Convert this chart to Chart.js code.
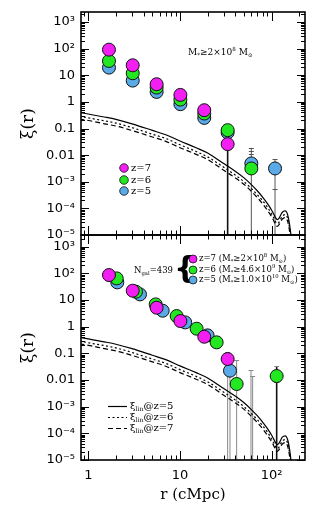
<!DOCTYPE html>
<html><head><meta charset="utf-8">
<script src="https://cdn.jsdelivr.net/npm/chart.js@4.4.1/dist/chart.umd.min.js"></script>
<style>
html,body{margin:0;padding:0;background:#fff;width:316px;height:517px;overflow:hidden}
canvas{position:absolute;left:0}
#c1{top:0}
#c2{top:225px}
</style></head><body>
<canvas id="c1" width="316" height="245"></canvas>
<canvas id="c2" width="316" height="292"></canvas>
<script>
// ---------- tick labels ----------
const yTickValues = [1e-5, 1e-4, 1e-3, 0.01, 0.1, 1, 10, 100, 1000];
const yTickLabels = ['10⁻⁵', '10⁻⁴', '10⁻³', '0.01', '0.1', '1', '10', '10²', '10³'];
const xTickValues = [1, 10, 100];
const xTickLabels = ['1', '10', '10²'];

// ---------- top panel (M* >= 2e8) ----------
const topR = [1.68, 3.05, 5.56, 10.1, 18.4, 33.1, 60, 108.8];
const topZ7 = [91.7, 23.7, 4.6, 1.83, 0.487, 0.0259, null, null];
const topZ6 = [34.5, 11.9, 3.45, 1.22, 0.365, 0.0866, 0.00316, null];
const topZ5 = [19.4, 6.3, 2.37, 0.82, 0.25, 0.0708, 0.00487, 0.00316];
const topErrR = [33.1, 60, 108.8];
const topErrHi = [0.0259, 0.0188, 0.0069];
const topErrLo = [1e-7, 1e-7, 1e-7];
const topCapR = [60, 60, 60, 108.8, 108.8, 108.8];
const topCapV = [0.0188, 0.0145, 0.0112, 0.0069, 0.0056, 0.00053];

// ---------- bottom panel (N_gal = 439) ----------
const botZ7R = [1.68, 3.05, 5.56, 10.1, 18.4, 33.1];
const botZ7 = [86.6, 22.4, 5.16, 1.63, 0.42, 0.0613];
const botZ6R = [2.04, 3.31, 5.43, 9.2, 15.2, 25.1, 41.5, 113.4];
const botZ6 = [64.9, 20.5, 6.88, 2.51, 0.84, 0.259, 0.00708, 0.0141];
const botZ5R = [2.07, 3.66, 6.47, 11.4, 20.0, 35.1];
const botZ5 = [46, 16.3, 3.98, 1.45, 0.473, 0.0224];
const botErrR = [33.1, 35.1, 41.5, 59.5, 62, 113.4];
const botErrHi = [0.115, 0.0224, 0.056, 0.0237, 0.0141, 0.0335];
const botErrLo = [1e-7, 1e-7, 1e-7, 1e-7, 1e-7, 1e-7];
const botErrDark = [false, false, false, false, false, true];
const botCapR = [33.1, 41.5, 59.5, 62, 113.4, 113.4];
const botCapV = [0.115, 0.056, 0.0237, 0.0141, 0.0335, 0.0087];

// ---------- linear correlation function curves ----------
const linR  = [0.8, 1, 1.5, 2, 3, 5, 7, 10, 15, 20, 30, 40, 50, 60, 70, 80, 90, 100, 105, 110, 115, 120, 130, 140, 150, 160, 170];
const linZ5 = [0.40, 0.35, 0.27, 0.22, 0.15, 0.085, 0.058, 0.034, 0.019, 0.012, 0.0048, 0.0025, 0.0014, 0.00078, 0.00045, 0.00026, 0.00015, 8.5e-5, 6.2e-5, 4.5e-5, 3.8e-5, 4.2e-5, 7.0e-5, 8.0e-5, 5.5e-5, 1.5e-5, 2e-6];
const linZ6 = [0.29, 0.25, 0.195, 0.16, 0.108, 0.061, 0.042, 0.0245, 0.0137, 0.0086, 0.0035, 0.0018, 0.001, 0.00056, 0.00032, 0.00019, 0.00011, 6.1e-5, 4.5e-5, 3.2e-5, 2.7e-5, 3.0e-5, 5.0e-5, 5.8e-5, 4.0e-5, 1.1e-5, 1.5e-6];
const linZ7 = [0.225, 0.2, 0.15, 0.124, 0.084, 0.048, 0.033, 0.019, 0.0107, 0.0068, 0.0027, 0.0014, 0.00079, 0.00044, 0.00025, 0.000146, 8.4e-5, 4.8e-5, 3.5e-5, 2.5e-5, 2.1e-5, 2.4e-5, 3.9e-5, 4.5e-5, 3.1e-5, 8.5e-6, 1.1e-6];

const MAGENTA = '#f21ef2', GREEN = '#22e822', BLUE = '#5aaae8';
const SERIF = '"DejaVu Serif", "Liberation Serif", serif';
const SANS = '"DejaVu Sans", "Liberation Sans", sans-serif';

const pts = (xs, ys) => xs.map((x, i) => ({x, y: ys[i]})).filter(p => p.y !== null);

function pointSet(label, xs, ys, color, order) {
  return {label, data: pts(xs, ys), showLine: false, pointRadius: 6.5, pointHoverRadius: 6.5,
    pointBackgroundColor: color, pointBorderColor: '#111', pointBorderWidth: 1, order};
}
function lineSets() {
  return [
    {label: 'z5', data: pts(linR, linZ5), borderColor: '#000', borderWidth: 1.2, pointRadius: 0, cubicInterpolationMode: 'monotone', order: 10},
    {label: 'z6', data: pts(linR, linZ6), borderColor: '#000', borderWidth: 1.2, borderDash: [2, 2.5], pointRadius: 0, cubicInterpolationMode: 'monotone', order: 11},
    {label: 'z7', data: pts(linR, linZ7), borderColor: '#000', borderWidth: 1.2, borderDash: [5, 3], pointRadius: 0, cubicInterpolationMode: 'monotone', order: 12}
  ];
}

function zeroPad(s) { s.paddingTop = 0; s.paddingBottom = 0; s.paddingLeft = 0; s.paddingRight = 0; }

function makeScales(yMax, showX) {
  return {
    x: {
      type: 'logarithmic', min: 0.832, max: 231, display: showX,
      grid: {display: false, drawTicks: false}, border: {display: false},
      afterBuildTicks: s => { s.ticks = xTickValues.map(v => ({value: v})); },
      ticks: {autoSkip: false, maxRotation: 0, padding: 8, color: '#000', font: {family: SANS, size: 13},
        callback: (v, i) => xTickLabels[i]},
      title: {display: showX, text: 'r (cMpc)', color: '#000', font: {family: SERIF, size: 15}, padding: {top: 0, bottom: 13}},
      afterFit: s => { s.height = showX ? 57 : 0; zeroPad(s); }
    },
    y: {
      type: 'logarithmic', min: 1e-5, max: yMax,
      grid: {display: false, drawTicks: false}, border: {display: false},
      afterBuildTicks: s => { s.ticks = yTickValues.map(v => ({value: v})); },
      ticks: {autoSkip: false, padding: 6, color: '#000', font: {family: SANS, size: 13},
        callback: (v, i) => yTickLabels[i]},
      title: {display: true, text: 'ξ(r)', color: '#000', font: {family: SERIF, size: 17}, padding: {top: 18, bottom: 0}},
      afterFit: s => { s.width = 81; zeroPad(s); }
    }
  };
}

function tickList(min, max) {
  const out = [];
  for (let e = -6; e <= 4; e++) for (let k = 1; k <= 9; k++) {
    const v = k * Math.pow(10, e);
    if (v >= min * 0.9999 && v <= max * 1.0001) out.push({v, major: k === 1});
  }
  return out;
}

const framePlugin = {
  id: 'frame',
  afterDatasetsDraw(chart) {
    const {ctx, chartArea: a, scales: {x, y}} = chart;
    ctx.save();
    ctx.strokeStyle = '#000';
    ctx.lineWidth = 1;
    ctx.beginPath();
    for (const t of tickList(y.min, y.max)) {
      const py = Math.round(y.getPixelForValue(t.v)) + 0.5, L = t.major ? 8 : 4;
      ctx.moveTo(a.left, py); ctx.lineTo(a.left + L, py);
      ctx.moveTo(a.right, py); ctx.lineTo(a.right - L, py);
    }
    for (const t of tickList(x.min, x.max)) {
      const px = Math.round(x.getPixelForValue(t.v)) + 0.5, L = t.major ? 9 : 4.5;
      ctx.moveTo(px, a.bottom); ctx.lineTo(px, a.bottom - L);
      ctx.moveTo(px, a.top); ctx.lineTo(px, a.top + L);
    }
    ctx.stroke();
    ctx.lineWidth = 1.6;
    ctx.strokeRect(a.left, a.top, a.width, a.height);
    ctx.restore();
  }
};

const errPlugin = {
  id: 'errbars',
  beforeDatasetsDraw(chart, args, o) {
    const {ctx, chartArea: a, scales: {x, y}} = chart;
    ctx.save();
    ctx.beginPath(); ctx.rect(a.left, a.top, a.width, a.height); ctx.clip();
    o.r.forEach((r, i) => {
      const px = x.getPixelForValue(r);
      ctx.strokeStyle = o.dark[i] ? '#111' : o.color;
      ctx.lineWidth = o.dark[i] ? 1.6 : 1;
      ctx.beginPath();
      ctx.moveTo(px, y.getPixelForValue(o.hi[i]));
      ctx.lineTo(px, Math.min(y.getPixelForValue(o.lo[i]), a.bottom + 2));
      ctx.stroke();
    });
    ctx.lineWidth = 1;
    ctx.beginPath();
    o.capR.forEach((r, i) => {
      const px = x.getPixelForValue(r), py = Math.round(y.getPixelForValue(o.capV[i])) + 0.5;
      ctx.moveTo(px - 2.5, py); ctx.lineTo(px + 2.5, py);
    });
    ctx.strokeStyle = o.color;
    ctx.stroke();
    ctx.restore();
  }
};

function rich(ctx, x, y, segs, size, family) {
  let cx = x;
  ctx.textBaseline = 'middle';
  ctx.textAlign = 'left';
  for (const [t, m] of segs) {
    const s = m ? size * 0.62 : size;
    ctx.font = s + 'px ' + family;
    const dy = m === 1 ? size * 0.32 : (m === 2 ? -size * 0.38 : 0);
    ctx.fillText(t, cx, y + dy);
    cx += ctx.measureText(t).width;
  }
  return cx;
}
function dot(ctx, x, y, r, c) {
  ctx.beginPath(); ctx.arc(x, y, r, 0, Math.PI * 2);
  ctx.fillStyle = c; ctx.fill();
  ctx.lineWidth = 0.8; ctx.strokeStyle = '#111'; ctx.stroke();
}

const topNotes = {
  id: 'topNotes',
  afterDraw(chart) {
    const ctx = chart.ctx;
    ctx.save();
    ctx.fillStyle = '#000';
    rich(ctx, 188, 53, [['M', 0], ['*', 1], ['≥2×10', 0], ['8', 2], [' M', 0], ['⊙', 1]], 9, SERIF);
    const L = [['z=7', MAGENTA, 168], ['z=6', GREEN, 180], ['z=5', BLUE, 191]];
    for (const [t, c, yy] of L) {
      dot(ctx, 124, yy, 4.3, c);
      ctx.fillStyle = '#000';
      rich(ctx, 131, yy, [[t, 0]], 10, SERIF);
    }
    ctx.restore();
  }
};

const botNotes = {
  id: 'botNotes',
  afterDraw(chart) {
    const ctx = chart.ctx;
    const off = 225;
    ctx.save();
    ctx.fillStyle = '#000';
    rich(ctx, 134, 271 - off, [['N', 0], ['gal', 1], ['=439', 0]], 8.5, SERIF);
    ctx.font = 'bold 31px ' + SANS;
    ctx.textBaseline = 'middle';
    ctx.textAlign = 'center';
    ctx.fillText('{', 185, 270 - off);
    const L = [
      [MAGENTA, 259, [['z=7 (M', 0], ['*', 1], ['≥2×10', 0], ['8', 2], [' M', 0], ['⊙', 1], [')', 0]]],
      [GREEN, 270, [['z=6 (M', 0], ['*', 1], ['≥4.6×10', 0], ['9', 2], [' M', 0], ['⊙', 1], [')', 0]]],
      [BLUE, 280, [['z=5 (M', 0], ['*', 1], ['≥1.0×10', 0], ['10', 2], [' M', 0], ['⊙', 1], [')', 0]]]
    ];
    for (const [c, yy, segs] of L) {
      dot(ctx, 193, yy - off, 4, c);
      ctx.fillStyle = '#000';
      rich(ctx, 199, yy - off, segs, 8.5, SERIF);
    }
    const LL = [[[], 406, '5'], [[2, 2.5], 417, '6'], [[5, 3], 428, '7']];
    for (const [dash, yy, z] of LL) {
      ctx.strokeStyle = '#000'; ctx.lineWidth = 1.2; ctx.setLineDash(dash);
      ctx.beginPath(); ctx.moveTo(108, yy - off + 0.5); ctx.lineTo(127, yy - off + 0.5); ctx.stroke();
      ctx.setLineDash([]);
      rich(ctx, 130, yy - off, [['ξ', 0], ['lin', 1], ['@z=' + z, 0]], 10, SERIF);
    }
    ctx.restore();
  }
};

const common = {responsive: false, animation: false, devicePixelRatio: 1,
  plugins: {legend: {display: false}, tooltip: {enabled: false}}};

new Chart(document.getElementById('c1'), {
  type: 'line',
  data: {datasets: [
    pointSet('z=7', topR, topZ7, MAGENTA, 0),
    pointSet('z=6', topR, topZ6, GREEN, 1),
    pointSet('z=5', topR, topZ5, BLUE, 2),
    ...lineSets()
  ]},
  options: Object.assign({}, common, {
    layout: {padding: {left: 0, right: 11, top: 12, bottom: 10}},
    scales: makeScales(Math.pow(10, 3.376), false),
    plugins: Object.assign({}, common.plugins, {
      errbars: {r: topErrR, hi: topErrHi, lo: topErrLo, dark: [true, false, false], color: '#555', capR: topCapR, capV: topCapV}
    })
  }),
  plugins: [errPlugin, framePlugin, topNotes]
});

new Chart(document.getElementById('c2'), {
  type: 'line',
  data: {datasets: [
    pointSet('z=7', botZ7R, botZ7, MAGENTA, 0),
    pointSet('z=6', botZ6R, botZ6, GREEN, 1),
    pointSet('z=5', botZ5R, botZ5, BLUE, 2),
    ...lineSets()
  ]},
  options: Object.assign({}, common, {
    layout: {padding: {left: 0, right: 11, top: 10, bottom: 0}},
    scales: makeScales(Math.pow(10, 3.44), true),
    plugins: Object.assign({}, common.plugins, {
      errbars: {r: botErrR, hi: botErrHi, lo: botErrLo, dark: botErrDark, color: '#888', capR: botCapR, capV: botCapV}
    })
  }),
  plugins: [errPlugin, framePlugin, botNotes]
});
</script>
</body></html>
